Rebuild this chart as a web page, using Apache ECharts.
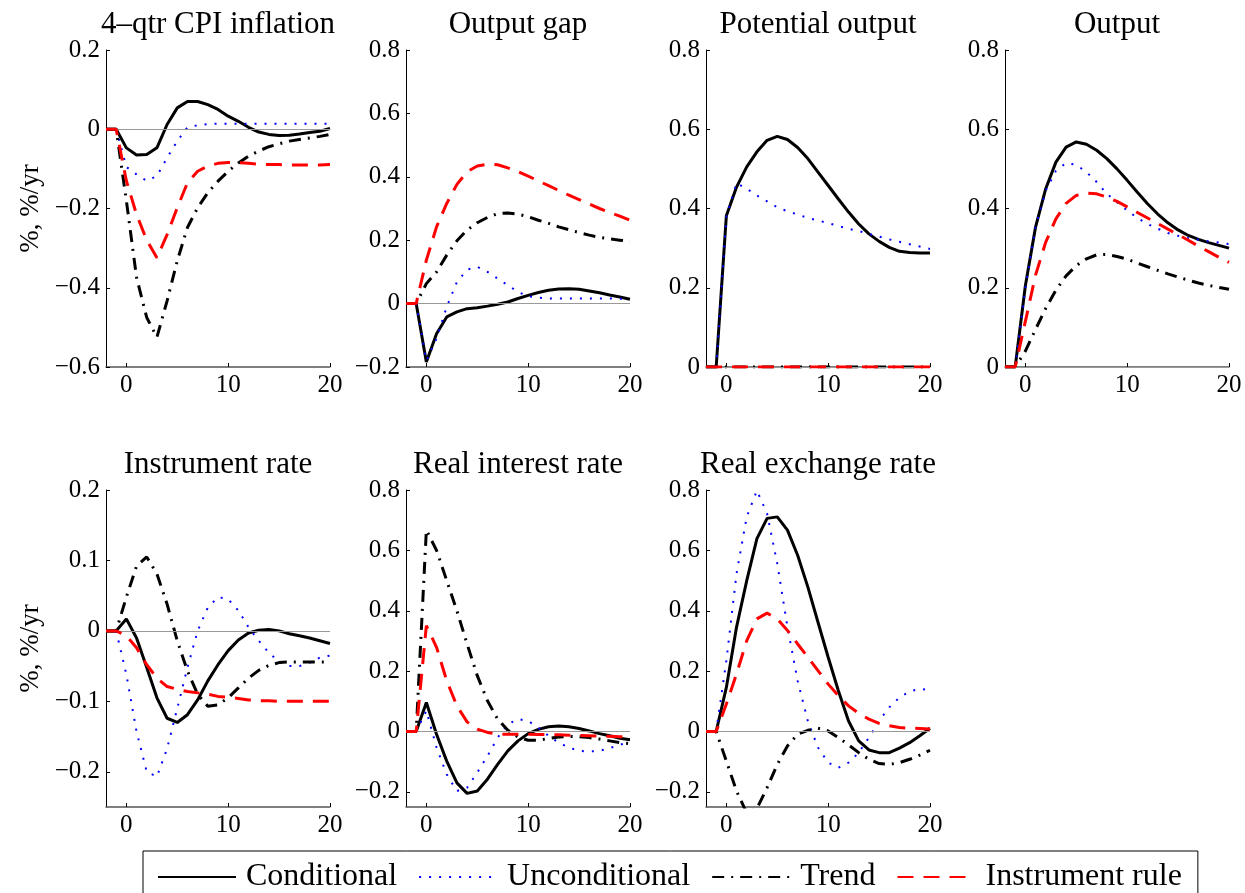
<!DOCTYPE html>
<html>
<head>
<meta charset="utf-8">
<script src="https://cdn.jsdelivr.net/npm/echarts@6/dist/echarts.min.js"></script>
<style>
html,body{margin:0;padding:0;background:#fff;}
#chart{width:1245px;height:893px;}
</style>
</head>
<body>
<div id="chart"></div>
<script>
// ---- data ----
const periods = [-2,-1,0,1,2,3,4,5,6,7,8,9,10,11,12,13,14,15,16,17,18,19,20];
const seriesNames = ['Conditional','Unconditional','Trend','Instrument rule'];
const panelTitles = ['4\u2013qtr CPI inflation','Output gap','Potential output','Output','Instrument rate','Real interest rate','Real exchange rate'];
const xTicks = [0,10,20];

const yMin = [-0.6,-0.2,0,0,-0.25,-0.25,-0.25];
const yMax = [0.2,0.8,0.8,0.8,0.2,0.8,0.8];
const yTicksCPI = [-0.6,-0.4,-0.2,0,0.2];
const yTicksGap = [-0.2,0,0.2,0.4,0.6,0.8];
const yTicksPos = [0,0.2,0.4,0.6,0.8];
const yTicksRate = [-0.2,-0.1,0,0.1,0.2];
const yTicksWide = [-0.2,0,0.2,0.4,0.6,0.8];

// 4-qtr CPI inflation
const cpiCond   = [0,0,-0.047,-0.065,-0.064,-0.047,0.012,0.054,0.07,0.07,0.062,0.05,0.033,0.02,0.005,-0.007,-0.013,-0.016,-0.015,-0.012,-0.008,-0.005,0.002];
const cpiUncond = [0,0,-0.095,-0.114,-0.13,-0.118,-0.072,-0.03,0.005,0.01,0.013,0.014,0.014,0.014,0.014,0.014,0.014,0.014,0.014,0.014,0.014,0.014,0.014];
const cpiTrend  = [0,0,-0.18,-0.374,-0.475,-0.525,-0.433,-0.332,-0.248,-0.198,-0.16,-0.131,-0.106,-0.085,-0.068,-0.055,-0.044,-0.037,-0.03,-0.026,-0.022,-0.018,-0.013];
const cpiInstr  = [0,0,-0.13,-0.215,-0.28,-0.324,-0.266,-0.198,-0.135,-0.106,-0.093,-0.086,-0.084,-0.084,-0.086,-0.088,-0.089,-0.089,-0.09,-0.09,-0.09,-0.09,-0.089];

// Output gap
const gapCond   = [0,0,-0.184,-0.095,-0.042,-0.026,-0.016,-0.013,-0.008,-0.002,0.005,0.016,0.026,0.035,0.042,0.046,0.047,0.045,0.04,0.034,0.027,0.021,0.014];
const gapUncond = [0,0,-0.18,-0.11,-0.01,0.068,0.107,0.116,0.1,0.079,0.058,0.037,0.023,0.019,0.016,0.016,0.016,0.016,0.016,0.016,0.016,0.015,0.015];
const gapTrend  = [0,0,0.063,0.1,0.153,0.198,0.232,0.255,0.272,0.284,0.286,0.282,0.274,0.263,0.253,0.242,0.233,0.224,0.216,0.209,0.204,0.2,0.196];
const gapInstr  = [0,0,0.137,0.242,0.316,0.376,0.416,0.434,0.44,0.438,0.428,0.416,0.402,0.387,0.372,0.357,0.342,0.328,0.314,0.3,0.287,0.276,0.263];

// Potential output
const potCond   = [0,0,0.382,0.454,0.505,0.543,0.572,0.582,0.574,0.554,0.526,0.492,0.458,0.424,0.391,0.361,0.336,0.317,0.302,0.292,0.289,0.288,0.288];
const potUncond = [0,0,0.38,0.464,0.45,0.433,0.418,0.403,0.393,0.385,0.376,0.37,0.363,0.356,0.349,0.343,0.336,0.329,0.322,0.316,0.31,0.304,0.298];
const potTrend  = [0,0,0,0,0,0,0,0,0,0,0,0,0,0,0,0,0,0,0,0,0,0,0];
const potInstr  = [0,0,0,0,0,0,0,0,0,0,0,0,0,0,0,0,0,0,0,0,0,0,0];

// Output
const outCond   = [0,0,0.205,0.353,0.45,0.517,0.555,0.568,0.562,0.547,0.526,0.5,0.471,0.441,0.412,0.386,0.364,0.346,0.332,0.322,0.314,0.307,0.3];
const outUncond = [0,0,0.2,0.354,0.445,0.495,0.515,0.51,0.492,0.467,0.437,0.416,0.395,0.376,0.361,0.349,0.338,0.331,0.325,0.321,0.317,0.314,0.31];
const outTrend  = [0,0,0.04,0.095,0.148,0.194,0.23,0.256,0.273,0.283,0.284,0.279,0.272,0.262,0.253,0.244,0.235,0.227,0.219,0.212,0.206,0.201,0.196];
const outInstr  = [0,0,0.115,0.232,0.315,0.374,0.413,0.433,0.439,0.437,0.429,0.418,0.404,0.39,0.376,0.362,0.348,0.334,0.32,0.305,0.291,0.277,0.264];

// Instrument rate
const irCond   = [0,0,0.017,-0.01,-0.052,-0.095,-0.124,-0.13,-0.119,-0.098,-0.071,-0.048,-0.028,-0.013,-0.003,0.001,0.002,0.0,-0.004,-0.007,-0.01,-0.014,-0.018];
const irUncond = [0,0,-0.062,-0.143,-0.2,-0.207,-0.167,-0.11,-0.052,0.0,0.033,0.048,0.045,0.029,0.005,-0.014,-0.031,-0.044,-0.05,-0.05,-0.045,-0.038,-0.035];
const irTrend  = [0,0,0.048,0.092,0.105,0.081,0.038,-0.014,-0.057,-0.09,-0.107,-0.105,-0.095,-0.081,-0.067,-0.056,-0.049,-0.045,-0.044,-0.044,-0.044,-0.044,-0.044];
const irInstr  = [0,0,-0.007,-0.024,-0.048,-0.067,-0.079,-0.083,-0.086,-0.088,-0.09,-0.093,-0.094,-0.096,-0.098,-0.099,-0.099,-0.1,-0.1,-0.1,-0.1,-0.1,-0.1];

// Real interest rate
const rirCond   = [0,0,0.096,-0.009,-0.098,-0.17,-0.205,-0.197,-0.158,-0.109,-0.064,-0.031,-0.007,0.007,0.016,0.018,0.016,0.01,0.002,-0.007,-0.014,-0.022,-0.027];
const rirUncond = [0,0,0.069,-0.053,-0.142,-0.197,-0.186,-0.136,-0.081,-0.02,0.024,0.041,0.035,0.013,-0.014,-0.037,-0.053,-0.064,-0.066,-0.064,-0.055,-0.044,-0.033];
const rirTrend  = [0,0,0.667,0.6,0.5,0.4,0.29,0.185,0.102,0.041,0.004,-0.018,-0.029,-0.029,-0.023,-0.018,-0.016,-0.017,-0.02,-0.025,-0.031,-0.037,-0.04];
const rirInstr  = [0,0,0.351,0.279,0.168,0.085,0.032,0.008,-0.003,-0.009,-0.009,-0.009,-0.009,-0.01,-0.01,-0.011,-0.012,-0.013,-0.014,-0.015,-0.016,-0.017,-0.018];

// Real exchange rate
const rerCond   = [0,0,0.146,0.346,0.5,0.639,0.706,0.711,0.667,0.584,0.479,0.362,0.246,0.135,0.035,-0.031,-0.061,-0.07,-0.07,-0.055,-0.037,-0.014,0.011];
const rerUncond = [0,0,0.235,0.523,0.711,0.798,0.722,0.556,0.346,0.168,0.035,-0.053,-0.103,-0.12,-0.103,-0.07,-0.02,0.035,0.08,0.113,0.133,0.141,0.137];
const rerTrend  = [0,0,-0.098,-0.197,-0.27,-0.255,-0.186,-0.109,-0.048,-0.009,0.004,0.011,0.002,-0.02,-0.044,-0.07,-0.092,-0.106,-0.109,-0.103,-0.092,-0.078,-0.062];
const rerInstr  = [0,0,0.091,0.191,0.301,0.373,0.392,0.373,0.335,0.29,0.246,0.202,0.157,0.119,0.085,0.06,0.041,0.027,0.019,0.013,0.011,0.01,0.008];

// ---- assembly ----
const panelData = [
  [cpiCond,cpiUncond,cpiTrend,cpiInstr],
  [gapCond,gapUncond,gapTrend,gapInstr],
  [potCond,potUncond,potTrend,potInstr],
  [outCond,outUncond,outTrend,outInstr],
  [irCond,irUncond,irTrend,irInstr],
  [rirCond,rirUncond,rirTrend,rirInstr],
  [rerCond,rerUncond,rerTrend,rerInstr]
];
const panelYTicks = [yTicksCPI,yTicksGap,yTicksPos,yTicksPos,yTicksRate,yTicksWide,yTicksWide];

const FONT = '"Liberation Serif","Times New Roman",serif';
const lineStyles = [
  {color:'#000000', width:3, type:'solid'},
  {color:'#0000ff', width:2, type:[2,8]},
  {color:'#000000', width:3, type:[12,7,2,7]},
  {color:'#ff0000', width:3, type:[16,10]}
];
const colLeft = [106,406,706,1005];
const rowTop = [50,490];
const gw = 224, gh = 317;

const grids = [], xAxes = [], yAxes = [], titles = [], series = [];
panelData.forEach((pd, i) => {
  const col = i % 4, row = Math.floor(i / 4);
  grids.push({left: colLeft[col], top: rowTop[row], width: gw, height: gh, containLabel:false});
  titles.push({
    text: panelTitles[i], left: colLeft[col] + gw/2, top: rowTop[row] - 41, textAlign:'center', padding:0,
    textStyle:{fontFamily:FONT, fontSize:31, fontWeight:'normal', color:'#000'}
  });
  xAxes.push({
    type:'value', gridIndex:i, min:-2, max:20,
    axisLine:{show:true, onZero:false, lineStyle:{color:'#555', width:1.5}},
    axisTick:{show:true, inside:true, length:4, customValues:xTicks, lineStyle:{color:'#000'}},
    axisLabel:{customValues:xTicks, fontFamily:FONT, fontSize:25, color:'#000', margin:6},
    splitLine:{show:false}
  });
  const yax = {
    type:'value', gridIndex:i, min:yMin[i], max:yMax[i],
    axisLine:{show:true, onZero:false, lineStyle:{color:'#000', width:1}},
    axisTick:{show:true, inside:true, length:4, customValues:panelYTicks[i], lineStyle:{color:'#000'}},
    axisLabel:{customValues:panelYTicks[i], fontFamily:FONT, fontSize:25, color:'#000', margin:6,
      formatter: v => String(+v.toFixed(2)).replace('-', '\u2212')},
    splitLine:{show:false}
  };
  if (col === 0) {
    yax.name = '%, %/yr';
    yax.nameLocation = 'middle';
    yax.nameRotate = 90;
    yax.nameGap = 62;
    yax.nameTextStyle = {fontFamily:FONT, fontSize:27, color:'#000'};
  }
  yAxes.push(yax);
  series.push({
    type:'line', name:'zero'+i, xAxisIndex:i, yAxisIndex:i, data:[], silent:true, z:1,
    markLine:{silent:true, symbol:['none','none'], label:{show:false},
      lineStyle:{color:'#999', width:1, type:'solid'}, data:[{yAxis:0}], animation:false}
  });
  pd.forEach((vals, k) => {
    series.push({
      type:'line', name:seriesNames[k], xAxisIndex:i, yAxisIndex:i,
      data: periods.map((t, j) => [t, vals[j]]),
      showSymbol:false, symbol:'none', smooth:false, z:2 + k,
      lineStyle: lineStyles[k], itemStyle:{color:lineStyles[k].color},
      clip:true, animation:false
    });
  });
});

const chart = echarts.init(document.getElementById('chart'));
chart.setOption({
  backgroundColor:'#fff',
  animation:false,
  title: titles,
  grid: grids,
  xAxis: xAxes,
  yAxis: yAxes,
  legend:{
    data: seriesNames, left:143, top:851, orient:'horizontal',
    itemWidth:78, itemHeight:14, itemGap:21,
    padding:[10,16,40,14], borderColor:'#000', borderWidth:1,
    itemStyle:{opacity:0},
    textStyle:{fontFamily:FONT, fontSize:32, color:'#000', padding:[0,0,0,5]},
    selectedMode:false
  },
  series: series
});
</script>
</body>
</html>
